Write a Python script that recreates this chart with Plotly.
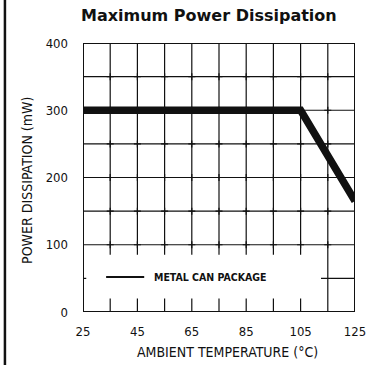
import plotly.graph_objects as go

# ---- data ----
temperature = [25, 105, 125]          # ambient temperature (°C)
power_mw = [300, 300, 165]            # max power dissipation (mW)
x_ticks = [25, 45, 65, 85, 105, 125]
y_ticks = [0, 100, 200, 300, 400]
x_grid = [35, 45, 55, 65, 75, 85, 95, 105]
y_grid = [100, 150, 200, 250, 300, 350]
legend_x = [33.5, 47.5]
legend_y = [52, 52]
legend_label = "METAL CAN PACKAGE"

NARROW = "Liberation Sans Narrow, DejaVu Sans Condensed, Arial Narrow, sans-serif"
BLACK = "#111111"

fig = go.Figure()

# grid intersection crosses
cx, cy = [], []
for gx in x_grid + [115]:
    for gy in y_grid:
        cx.append(gx)
        cy.append(gy)
fig.add_trace(go.Scatter(x=cx, y=cy, mode="markers", hoverinfo="skip",
                         marker=dict(symbol="cross-thin", size=5,
                                     line=dict(color=BLACK, width=1.2)),
                         showlegend=False))

fig.add_trace(go.Scatter(x=temperature, y=power_mw, mode="lines",
                         line=dict(color=BLACK, width=7.5),
                         showlegend=False))
fig.add_trace(go.Scatter(x=legend_x, y=legend_y, mode="lines",
                         line=dict(color=BLACK, width=2),
                         showlegend=False))

shapes = []
line = dict(color=BLACK, width=1.2)
for gx in x_grid:
    shapes.append(dict(type="line", xref="x", yref="y", x0=gx, x1=gx,
                       y0=y_grid[0], y1=400, line=line))
    shapes.append(dict(type="line", xref="x", yref="y", x0=gx, x1=gx,
                       y0=y_grid[0] - 15, y1=y_grid[0], line=line))
    shapes.append(dict(type="line", xref="x", yref="y", x0=gx, x1=gx,
                       y0=0, y1=20, line=line))
shapes.append(dict(type="line", xref="x", yref="y", x0=115, x1=115,
                   y0=0, y1=400, line=line))
for gy in y_grid:
    shapes.append(dict(type="line", xref="x", yref="y", x0=25, x1=125,
                       y0=gy, y1=gy, line=line))
shapes.append(dict(type="line", xref="x", yref="y", x0=112.5, x1=125,
                   y0=50, y1=50, line=line))
shapes.append(dict(type="line", xref="x", yref="y", x0=25, x1=26.2,
                   y0=50, y1=50, line=line))
shapes.append(dict(type="rect", xref="x", yref="y", x0=25, x1=125,
                   y0=0, y1=400, line=dict(color=BLACK, width=2)))
# page border at the left
shapes.append(dict(type="line", xref="paper", yref="paper", x0=-0.287, x1=-0.287,
                   y0=-0.2, y1=1.17, line=dict(color=BLACK, width=2.5)))

annotations = [
    dict(text="<b>Maximum Power Dissipation</b>", xref="paper", yref="paper",
         x=0.465, y=1.104, showarrow=False, xanchor="center", yanchor="middle",
         font=dict(family="DejaVu Sans, sans-serif", size=16, color=BLACK)),
    dict(text="AMBIENT TEMPERATURE (°C)", xref="paper", yref="paper",
         x=0.531, y=-0.149, showarrow=False, xanchor="center", yanchor="middle",
         font=dict(family=NARROW, size=14, color=BLACK)),
    dict(text="POWER DISSIPATION (mW)", xref="paper", yref="paper",
         x=-0.207, y=0.49, showarrow=False, xanchor="center", yanchor="middle",
         textangle=-90, font=dict(family=NARROW, size=14, color=BLACK)),
    dict(text="<b>" + legend_label + "</b>", xref="x", yref="y",
         x=50.5, y=legend_y[0], showarrow=False, xanchor="left", yanchor="middle",
         font=dict(family=NARROW, size=10.5, color=BLACK)),
]

fig.update_layout(
    width=378, height=365,
    margin=dict(l=83, r=20, t=43, b=53),
    paper_bgcolor="white", plot_bgcolor="white",
    shapes=shapes, annotations=annotations,
    showlegend=False,
    xaxis=dict(range=[25, 125], tickvals=x_ticks, ticktext=[str(v) for v in x_ticks],
               showgrid=False, zeroline=False, showline=False, ticks="",
               tickfont=dict(family=NARROW, size=13, color=BLACK),
               ticklabelstandoff=10, fixedrange=True),
    yaxis=dict(range=[0, 400], tickvals=y_ticks, ticktext=[str(v) for v in y_ticks],
               showgrid=False, zeroline=False, showline=False, ticks="",
               tickfont=dict(family=NARROW, size=13, color=BLACK),
               ticklabelstandoff=14, fixedrange=True),
)

fig.write_html("out.html",
               config={"displayModeBar": False, "staticPlot": True},
               post_script="document.body.style.margin='0';"
                           "document.body.style.overflow='hidden';")
